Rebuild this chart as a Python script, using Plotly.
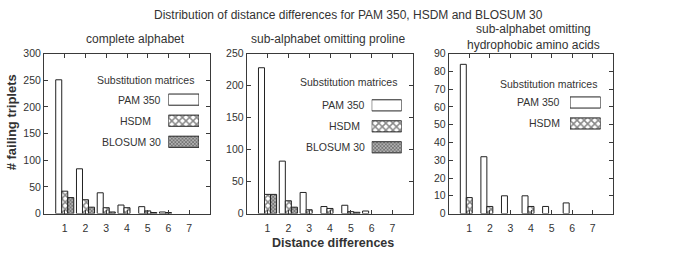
import plotly.graph_objects as go

# ---------------- data ----------------
distances = [1, 2, 3, 4, 5, 6, 7]
tick_labels = ["1", "2", "3", "4", "5", "6", "7"]
series_names = ["PAM 350", "HSDM", "BLOSUM 30"]

pam_complete = [251, 84, 39, 16, 13, 3, 0]
hsdm_complete = [42, 26, 11, 11, 5, 2, 0]
blosum_complete = [30, 12, 3, 0, 2, 0, 0]

pam_no_proline = [228, 82, 33, 11, 13, 4, 0]
hsdm_no_proline = [30, 20, 6, 8, 3, 0, 0]
blosum_no_proline = [30, 10, 0, 0, 2, 0, 0]

pam_no_hydrophobic = [84, 32, 10, 10, 4, 6, 0]
hsdm_no_hydrophobic = [9, 4, 0, 4, 0, 0, 0]
blosum_no_hydrophobic = [None] * 7   # not shown for this sub-alphabet

yticks_complete = [0, 50, 100, 150, 200, 250, 300]
yticks_no_proline = [0, 50, 100, 150, 200, 250]
yticks_no_hydrophobic = [0, 10, 20, 30, 40, 50, 60, 70, 80, 90]

main_title = "Distribution of distance differences for PAM 350, HSDM and BLOSUM 30"
panel_titles = ["complete alphabet", "sub-alphabet omitting proline",
                "sub-alphabet omitting<br>hydrophobic amino acids"]
legend_title = "Substitution matrices"
y_title = "# failing triplets"
x_title = "Distance differences"

# ---------------- styling ----------------
W, H = 686, 258
FONT = "Liberation Sans, Arial, Helvetica, sans-serif"
TXT = "#333333"
LINE = "#3a3a3a"

def px(x):
    return x / W

def py(y):
    return 1 - y / H

HSDM_PAT = dict(shape="x", size=5, solidity=0.5, fgcolor="#111", bgcolor="white")
BLOSUM_PAT = dict(shape="x", size=2.5, solidity=0.55, fgcolor="#333", bgcolor="#b0b0b0")

styles = {
    "PAM 350": dict(color="white", line=dict(color="#222", width=1)),
    "HSDM": dict(color="white", line=dict(color="#222", width=1), pattern=HSDM_PAT),
    "BLOSUM 30": dict(color="white", line=dict(color="#222", width=1), pattern=BLOSUM_PAT),
}

panels = [
    dict(data=[pam_complete, hsdm_complete, blosum_complete], yticks=yticks_complete,
         yr=[0, 300], x0=44, x1=210),
    dict(data=[pam_no_proline, hsdm_no_proline, blosum_no_proline], yticks=yticks_no_proline,
         yr=[0, 250], x0=246.7, x1=413.3),
    dict(data=[pam_no_hydrophobic, hsdm_no_hydrophobic, blosum_no_hydrophobic],
         yticks=yticks_no_hydrophobic, yr=[0, 90], x0=448.7, x1=613.3),
]
plot_top, plot_bot = 50, 217.7

fig = go.Figure()
layout = {}

for i, p in enumerate(panels):
    k = "" if i == 0 else str(i + 1)
    for name, vals in zip(series_names, p["data"]):
        # zero counts draw no bar (avoid a stroked zero-height outline)
        shown = [v if v else None for v in vals]
        fig.add_trace(go.Bar(x=distances, y=shown, name=name, marker=styles[name],
                             xaxis="x" + k, yaxis="y" + k, showlegend=False))
    axis_common = dict(showline=True, linecolor=LINE, linewidth=1, mirror="ticks",
                       ticks="inside", ticklen=4, tickcolor=LINE, showgrid=False,
                       zeroline=False, tickfont=dict(family=FONT, size=10.5, color=TXT))
    layout["xaxis" + k] = dict(domain=[px(p["x0"]), px(p["x1"])], range=[0, 8],
                               tickvals=distances, ticktext=tick_labels,
                               ticklabelstandoff=5,
                               anchor="y" + k, **axis_common)
    layout["yaxis" + k] = dict(domain=[py(plot_bot), py(plot_top)], range=p["yr"],
                               tickvals=p["yticks"], anchor="x" + k, **axis_common)

# ---------------- custom legends (text left, swatch right) ----------------
legends = [
    dict(n=3, sx0=168.3, sx1=199.0, c0=98.2, pitch=22.1, title=(145.8, 77.3),
         text_right=[163.3, 152.7, 163.3]),
    dict(n=3, sx0=371.7, sx1=401.7, c0=104.2, pitch=22.0, title=(348.0, 80.0),
         text_right=[366.7, 361.7, 366.7]),
    dict(n=2, sx0=570.0, sx1=600.7, c0=101.2, pitch=22.0, title=(548.0, 82.3),
         text_right=[562.3, 562.3]),
]
pats = [dict(shape="", size=5, solidity=0.4, bgcolor="white", fgcolor="#111"), HSDM_PAT, BLOSUM_PAT]
annotations = []
for j, lg in enumerate(legends):
    ax = str(4 + j)
    n = lg["n"]
    names = series_names[:n]
    fig.add_trace(go.Bar(
        x=[1] * n, y=list(range(n)), orientation="h", width=0.53,
        marker=dict(color="white", line=dict(color="#222", width=1),
                    pattern=dict(shape=[q["shape"] for q in pats[:n]],
                                 size=[q["size"] for q in pats[:n]],
                                 solidity=[q["solidity"] for q in pats[:n]],
                                 fgcolor=[q["fgcolor"] for q in pats[:n]],
                                 bgcolor=[q["bgcolor"] for q in pats[:n]])),
        xaxis="x" + ax, yaxis="y" + ax, showlegend=False, hoverinfo="skip"))
    top = lg["c0"] - lg["pitch"] / 2
    bot = lg["c0"] + (n - 0.5) * lg["pitch"]
    layout["xaxis" + ax] = dict(domain=[px(lg["sx0"]), px(lg["sx1"])], range=[0, 1],
                                visible=False, anchor="y" + ax, fixedrange=True)
    layout["yaxis" + ax] = dict(domain=[py(bot), py(top)], range=[n - 0.5, -0.5],
                                visible=False, anchor="x" + ax, fixedrange=True)
    tx, ty = lg["title"]
    annotations.append(dict(text=legend_title, x=px(tx), y=py(ty), xref="paper", yref="paper",
                            xanchor="center", yanchor="middle", showarrow=False,
                            font=dict(family=FONT, size=10.5, color=TXT)))
    for r, name in enumerate(names):
        annotations.append(dict(text=name, x=px(lg["text_right"][r]),
                                y=py(lg["c0"] + r * lg["pitch"]), xref="paper", yref="paper",
                                xanchor="right", yanchor="middle", showarrow=False,
                                font=dict(family=FONT, size=10.5, color=TXT)))

# ---------------- titles ----------------
annotations.append(dict(text=main_title, x=px(348), y=py(0), xref="paper", yref="paper",
                        xanchor="center", yanchor="top", showarrow=False,
                        font=dict(family=FONT, size=12, color=TXT)))
for (cx, cy), t in zip([(135, 35), (328, 35), (533, 33)], panel_titles):
    annotations.append(dict(text=t, x=px(cx), y=py(cy), xref="paper", yref="paper",
                            xanchor="center", yanchor="middle", showarrow=False,
                            font=dict(family=FONT, size=12, color=TXT)))
annotations.append(dict(text="<b>" + y_title + "</b>", x=px(11), y=py(122), xref="paper",
                        yref="paper", xanchor="center", yanchor="middle", textangle=-90,
                        showarrow=False, font=dict(family=FONT, size=13, color=TXT)))
annotations.append(dict(text="<b>" + x_title + "</b>", x=px(333), y=py(258), xref="paper",
                        yref="paper", xanchor="center", yanchor="bottom",
                        showarrow=False, font=dict(family=FONT, size=12.5, color=TXT)))

fig.update_layout(width=W, height=H, margin=dict(l=0, r=0, t=0, b=0),
                  paper_bgcolor="white", plot_bgcolor="white",
                  barmode="group", bargap=0.13, bargroupgap=0,
                  annotations=annotations, **layout)

fig.write_html("out.html", config={"displayModeBar": False},
               post_script="document.body.style.margin='0';document.body.style.overflow='hidden';")
